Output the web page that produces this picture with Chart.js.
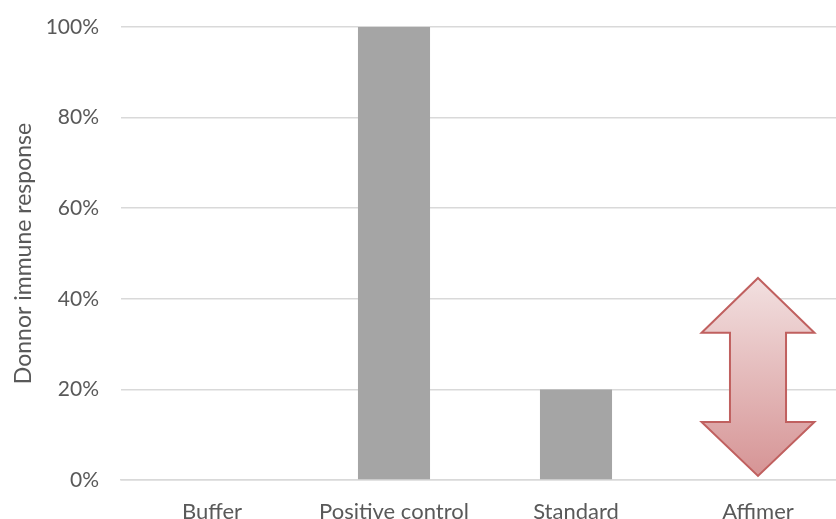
<!DOCTYPE html>
<html>
<head>
<meta charset="utf-8">
<script src="https://cdn.jsdelivr.net/npm/chart.js@4.4.0/dist/chart.umd.min.js"></script>
<style>
  html, body { margin: 0; padding: 0; background: #fff; overflow: hidden; }
  #wrap { width: 849px; height: 519px; }
</style>
</head>
<body>
<div id="wrap"><canvas id="chart"></canvas></div>
<script>
const categories = ['Buffer', 'Positive control', 'Standard', 'Affimer'];
const responses = [0, 100, 20, null];
const yTicks = [0, 20, 40, 60, 80, 100];

// double arrow on Affimer: tip top, head base top, head base bottom, tip bottom (in %)
const arrowIndex = 3;
const arrowLevels = [44.6, 32.5, 12.8, 0.9];

const grey = '#595959';
const fontFamily = 'Lato';

// draws the pink double headed arrow over the Affimer category
const arrowPlugin = {
  id: 'arrow',
  afterDatasetsDraw(chart) {
    const { ctx, scales } = chart;
    const x = scales.x.getPixelForValue(arrowIndex);
    const step = scales.x.getPixelForValue(1) - scales.x.getPixelForValue(0);
    const head = step * 0.31;
    const shaft = step * 0.154;
    const [t, hb1, hb2, b] = arrowLevels.map(v => scales.y.getPixelForValue(v));
    ctx.save();
    ctx.beginPath();
    ctx.moveTo(x, t);
    ctx.lineTo(x + head, hb1);
    ctx.lineTo(x + shaft, hb1);
    ctx.lineTo(x + shaft, hb2);
    ctx.lineTo(x + head, hb2);
    ctx.lineTo(x, b);
    ctx.lineTo(x - head, hb2);
    ctx.lineTo(x - shaft, hb2);
    ctx.lineTo(x - shaft, hb1);
    ctx.lineTo(x - head, hb1);
    ctx.closePath();
    const g = ctx.createLinearGradient(0, t, 0, b);
    g.addColorStop(0, '#f2e0e0');
    g.addColorStop(1, '#d69495');
    ctx.fillStyle = g;
    ctx.fill();
    ctx.lineWidth = 2;
    ctx.strokeStyle = '#c0605f';
    ctx.stroke();
    ctx.restore();
  }
};

new Chart(document.getElementById('chart'), {
  type: 'bar',
  data: {
    labels: categories,
    datasets: [{
      data: responses,
      backgroundColor: '#a5a5a5',
      categoryPercentage: 1,
      barPercentage: 0.396
    }]
  },
  options: {
    responsive: true,
    maintainAspectRatio: false,
    animation: false,
    layout: { padding: { top: 27, right: 0, left: 0, bottom: 0 } },
    plugins: { legend: { display: false }, tooltip: { enabled: false } },
    scales: {
      x: {
        grid: { display: false, drawTicks: false },
        border: { display: true, color: '#d9d9d9', width: 1.5 },
        ticks: {
          color: grey, padding: 19,
          font: { family: fontFamily, size: 22 }
        },
        afterFit(scale) { scale.height = 39; }
      },
      y: {
        min: 0, max: 100,
        afterBuildTicks(scale) { scale.ticks = yTicks.map(v => ({ value: v })); },
        grid: { color: '#d9d9d9', lineWidth: 1.5, drawTicks: false },
        border: { display: false },
        ticks: {
          color: grey, padding: 22,
          font: { family: fontFamily, size: 21 },
          callback: v => v + '%'
        },
        title: {
          display: true, text: 'Donnor immune response', color: grey,
          font: { family: fontFamily, size: 23 }, padding: { top: 10, bottom: 6 }
        },
        afterFit(scale) {
          scale.width = 121;
          scale.paddingTop = 0;
          scale.paddingBottom = 0;
        }
      }
    }
  },
  plugins: [arrowPlugin]
});
</script>
</body>
</html>
